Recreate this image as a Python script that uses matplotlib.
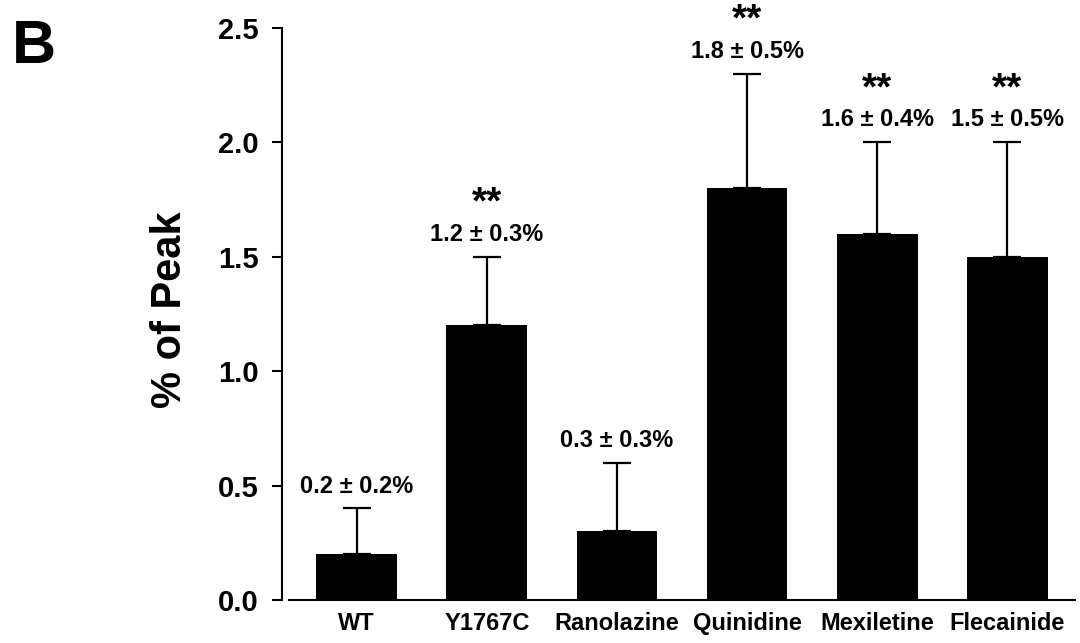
import matplotlib
matplotlib.use("Agg")
import matplotlib.pyplot as plt
import numpy as np

plt.rcParams['font.family'] = ['Liberation Sans', 'DejaVu Sans']
plt.rcParams['font.weight'] = 'bold'

categories = ["WT", "Y1767C", "Ranolazine", "Quinidine", "Mexiletine", "Flecainide"]
means = [0.2, 1.2, 0.3, 1.8, 1.6, 1.5]
errors = [0.2, 0.3, 0.3, 0.5, 0.4, 0.5]
value_labels = ["0.2 ± 0.2%", "1.2 ± 0.3%", "0.3 ± 0.3%", "1.8 ± 0.5%", "1.6 ± 0.4%", "1.5 ± 0.5%"]
significance = ["", "**", "", "**", "**", "**"]
yticks = [0.0, 0.5, 1.0, 1.5, 2.0, 2.5]
ytick_labels = ["0.0", "0.5", "1.0", "1.5", "2.0", "2.5"]

fig = plt.figure(figsize=(10.8, 6.43), dpi=100)
ax = fig.add_axes([289/1080, 1 - 600/643, (1075-289)/1080, (600-28)/643])

x = np.arange(len(categories))
ax.bar(x, means, width=0.62, color='black', zorder=2)
lower = np.zeros(len(errors))
ax.errorbar(x, means, yerr=[lower, errors], fmt='none', ecolor='black',
            elinewidth=1.6, capsize=10, capthick=1.6, zorder=1)

for xi, m, e, lab, sig in zip(x, means, errors, value_labels, significance):
    top = m + e
    ax.annotate(lab, (xi, top), xytext=(0, 11.5), textcoords='offset points',
                ha='center', va='baseline', fontsize=17, fontweight='bold')
    if sig:
        ax.annotate(sig, (xi, top), xytext=(0, 31), textcoords='offset points',
                    ha='center', va='baseline', fontsize=28, fontweight='bold')

ax.set_xlim(-0.52, 5.52)
ax.set_ylim(0, 2.5)
ax.set_yticks(yticks)
ax.set_yticklabels(ytick_labels)
ax.set_xticks(x)
ax.set_xticklabels(categories)
ax.tick_params(axis='x', length=0, pad=8.5, labelsize=17)
ax.tick_params(axis='y', length=7, width=1.5, pad=10, direction='out', labelsize=21)

for s in ['top', 'right']:
    ax.spines[s].set_visible(False)
ax.spines['left'].set_linewidth(1.5)
ax.spines['bottom'].set_linewidth(1.5)
ax.spines['left'].set_position(('outward', 5))

ax.set_ylabel("% of Peak", fontsize=30, fontweight='bold', va='center')
ax.yaxis.set_label_coords(-0.151, 0.507)

fig.text(12/1080, 1 - 63/643, "B", fontsize=44, fontweight='bold',
         ha='left', va='baseline')

fig.savefig("out.png", dpi=100)
